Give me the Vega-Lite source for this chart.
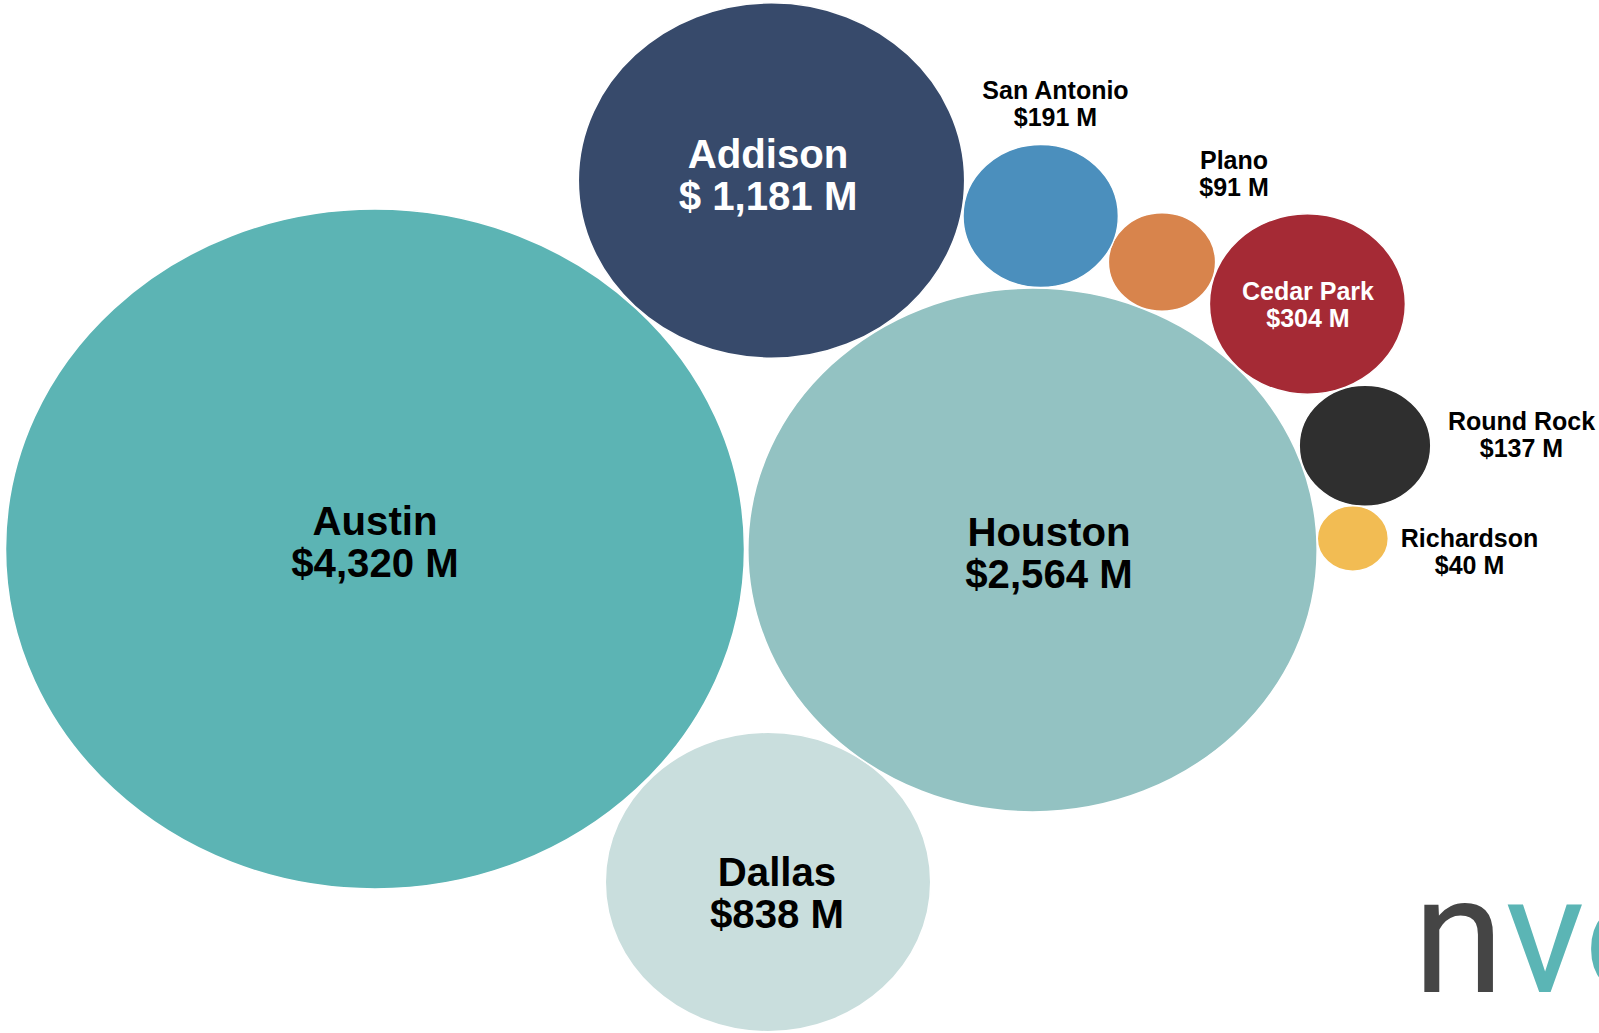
{
  "$schema": "https://vega.github.io/schema/vega-lite/v6.json",
  "autosize": {"type": "none"},
  "padding": 0,
  "width": 1599,
  "height": 1033,
  "background": "white",
  "config": {"view": {"stroke": null}},
  "datasets": {
    "cities": [
      {"city": "Dallas", "value": 838, "amount": "$838 M", "cx": 768, "cy": 882, "lx": 777, "ly": 874, "big": true},
      {"city": "Austin", "value": 4320, "amount": "$4,320 M", "cx": 375, "cy": 549, "lx": 375, "ly": 523, "big": true},
      {"city": "Houston", "value": 2564, "amount": "$2,564 M", "cx": 1032.5, "cy": 550, "lx": 1049, "ly": 534, "big": true},
      {"city": "Addison", "value": 1181, "amount": "$ 1,181 M", "cx": 771.5, "cy": 180.5, "lx": 768, "ly": 156, "big": true},
      {"city": "Cedar Park", "value": 304, "amount": "$304 M", "cx": 1307.4, "cy": 304, "lx": 1308, "ly": 292, "big": false},
      {"city": "Plano", "value": 91, "amount": "$91 M", "cx": 1162, "cy": 262, "lx": 1234, "ly": 161, "big": false},
      {"city": "San Antonio", "value": 191, "amount": "$191 M", "cx": 1040.7, "cy": 216, "lx": 1055.5, "ly": 91, "big": false},
      {"city": "Round Rock", "value": 137, "amount": "$137 M", "cx": 1365, "cy": 445.7, "lx": 1521.5, "ly": 422, "big": false},
      {"city": "Richardson", "value": 40, "amount": "$40 M", "cx": 1352.8, "cy": 538.5, "lx": 1469.5, "ly": 539, "big": false}
    ],
    "logo": [
      {"part": "n", "px": 1413, "py": 992},
      {"part": "vo", "px": 1505, "py": 992}
    ]
  },
  "layer": [
    {
      "data": {"name": "cities"},
      "mark": {
        "type": "point",
        "filled": true,
        "opacity": 1,
        "stroke": "white",
        "strokeWidth": 1.5,
        "shape": "M 1 0 C 1 0.5081 0.5523 0.92 0 0.92 C -0.5523 0.92 -1 0.5081 -1 0 C -1 -0.5081 -0.5523 -0.92 0 -0.92 C 0.5523 -0.92 1 -0.5081 1 0 Z"
      },
      "encoding": {
        "x": {"field": "cx", "type": "quantitative", "scale": {"domain": [0, 1599], "nice": false, "zero": false}, "axis": null},
        "y": {"field": "cy", "type": "quantitative", "scale": {"domain": [0, 1033], "nice": false, "zero": false, "reverse": true}, "axis": null},
        "size": {"field": "value", "type": "quantitative", "scale": {"type": "linear", "domain": [0, 4320], "range": [0, 546121]}, "legend": null},
        "fill": {
          "field": "city", "type": "nominal", "legend": null,
          "scale": {
            "domain": ["Austin", "Houston", "Addison", "Dallas", "San Antonio", "Plano", "Cedar Park", "Round Rock", "Richardson"],
            "range": ["#5cb4b4", "#93c2c2", "#374a6b", "#c9dedd", "#4b8fbd", "#d8844c", "#a52a35", "#2f2f2f", "#f2bc53"]
          }
        },
        "order": {"value": 0}
      }
    },
    {
      "data": {"name": "cities"},
      "transform": [
        {"filter": "datum.big"},
        {"calculate": "datum.city + '\\n' + datum.amount", "as": "label"}
      ],
      "mark": {"type": "text", "font": "Liberation Sans", "fontWeight": "bold", "fontSize": 40.2, "lineBreak": "\n", "lineHeight": 42, "align": "center", "baseline": "middle"},
      "encoding": {
        "x": {"field": "lx", "type": "quantitative"},
        "y": {"field": "ly", "type": "quantitative"},
        "text": {"field": "label"},
        "color": {"condition": {"test": "datum.city === 'Addison' || datum.city === 'Cedar Park'", "value": "white"}, "value": "black"}
      }
    },
    {
      "data": {"name": "cities"},
      "transform": [
        {"filter": "!datum.big"},
        {"calculate": "datum.city + '\\n' + datum.amount", "as": "label"}
      ],
      "mark": {"type": "text", "font": "Liberation Sans", "fontWeight": "bold", "fontSize": 25, "lineBreak": "\n", "lineHeight": 26.5, "align": "center", "baseline": "middle"},
      "encoding": {
        "x": {"field": "lx", "type": "quantitative"},
        "y": {"field": "ly", "type": "quantitative"},
        "text": {"field": "label"},
        "color": {"condition": {"test": "datum.city === 'Addison' || datum.city === 'Cedar Park'", "value": "white"}, "value": "black"}
      }
    },
    {
      "data": {"name": "logo"},
      "mark": {"type": "text", "font": "Roboto", "fontWeight": "normal", "fontSize": 165, "align": "left", "baseline": "alphabetic"},
      "encoding": {
        "x": {"field": "px", "type": "quantitative"},
        "y": {"field": "py", "type": "quantitative"},
        "text": {"field": "part"},
        "color": {"field": "part", "type": "nominal", "legend": null, "scale": {"domain": ["n", "vo"], "range": ["#454545", "#5bb5b5"]}}
      }
    }
  ]
}
